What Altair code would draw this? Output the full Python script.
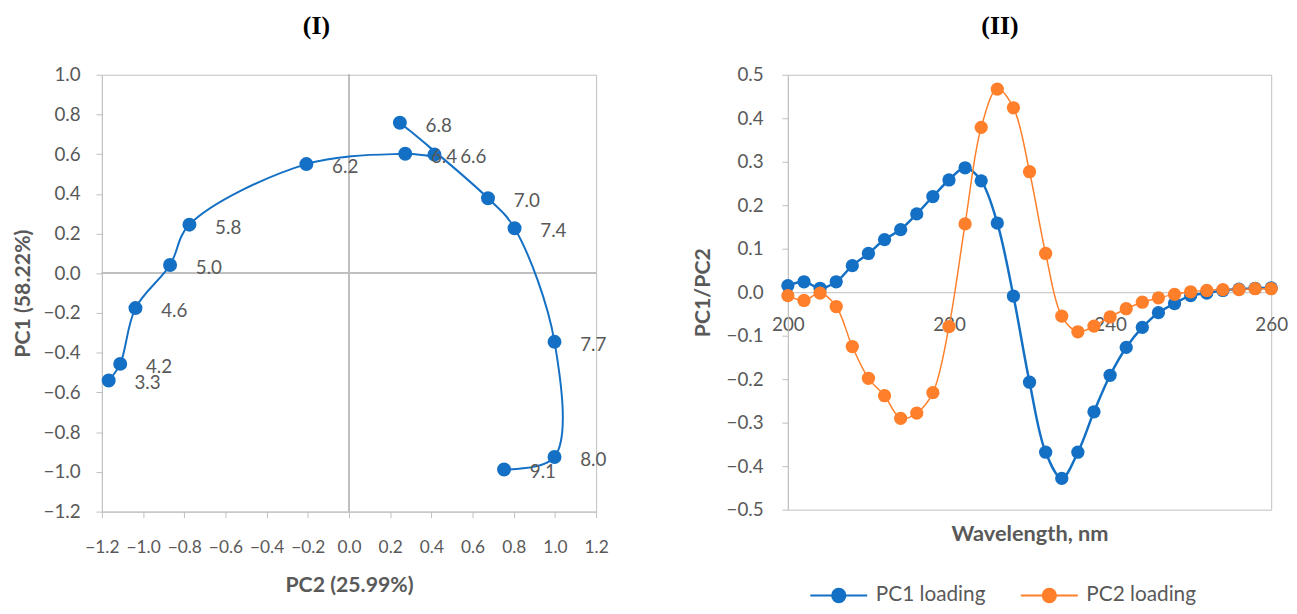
import altair as alt
import pandas as pd

# ---------------- data ----------------
ph_labels = ["3.3", "4.2", "4.6", "5.0", "5.8", "6.2", "6.4", "6.6", "6.8", "7.0", "7.4", "7.7", "8.0", "9.1"]
pc2_scores = [-1.167, -1.111, -1.037, -0.869, -0.775, -0.207, 0.273, 0.415, 0.247, 0.675, 0.804, 0.998, 0.998, 0.753]
pc1_scores = [-0.540, -0.456, -0.175, 0.042, 0.245, 0.550, 0.602, 0.598, 0.758, 0.378, 0.227, -0.345, -0.925, -0.988]

wavelengths = [200, 202, 204, 206, 208, 210, 212, 214, 216, 218, 220, 222, 224, 226, 228, 230,
               232, 234, 236, 238, 240, 242, 244, 246, 248, 250, 252, 254, 256, 258, 260]
pc1_loading = [0.015, 0.024, 0.009, 0.024, 0.061, 0.089, 0.121, 0.144, 0.180, 0.220, 0.258, 0.286,
               0.256, 0.159, -0.009, -0.207, -0.368, -0.428, -0.368, -0.275, -0.191, -0.127, -0.081,
               -0.047, -0.026, -0.008, -0.002, 0.004, 0.007, 0.009, 0.010]
pc2_loading = [-0.008, -0.019, -0.002, -0.033, -0.125, -0.198, -0.238, -0.290, -0.278, -0.231, -0.079,
               0.157, 0.379, 0.467, 0.424, 0.277, 0.089, -0.055, -0.091, -0.078, -0.057, -0.038, -0.023,
               -0.013, -0.005, 0.001, 0.004, 0.006, 0.006, 0.008, 0.008]
series_names = ["PC1 loading", "PC2 loading"]

score_x_ticks = [-1.2, -1.0, -0.8, -0.6, -0.4, -0.2, 0.0, 0.2, 0.4, 0.6, 0.8, 1.0, 1.2]
score_y_ticks = [-1.2, -1.0, -0.8, -0.6, -0.4, -0.2, 0.0, 0.2, 0.4, 0.6, 0.8, 1.0]
load_x_ticks = [200, 220, 240, 260]
load_y_ticks = [-0.5, -0.4, -0.3, -0.2, -0.1, 0.0, 0.1, 0.2, 0.3, 0.4, 0.5]

# ---------------- style ----------------
BLUE = "#1470C4"
ORANGE = "#FF7F2A"
FONT = "Lato"
GRAY = "#595959"
FRAME = "#BFBFBF"
FS = 19
TFS = 21.5

scores = pd.DataFrame({
    "idx": list(range(len(ph_labels))),
    "pH": ph_labels,
    "PC2": pc2_scores,
    "PC1": pc1_scores,
})

sx = alt.Scale(domain=[-1.2, 1.2], nice=False, zero=False)
sy = alt.Scale(domain=[-1.2, 1.0], nice=False, zero=False)

x_axis_l = alt.Axis(title="PC2 (25.99%)", values=score_x_ticks, format=".1f", labelOverlap=False,
                    labelFlush=False, labelFontSize=17.5,
                    tickSize=6, labelPadding=21, titlePadding=19, zindex=0)
y_axis_l = alt.Axis(title="PC1 (58.22%)", values=score_y_ticks, format=".1f", labelOverlap=False,
                    labelFlush=False, tickSize=6, labelPadding=16, titlePadding=9, zindex=0)

zero_v = alt.Chart(scores).mark_rule(color=FRAME, strokeWidth=1.5).encode(x=alt.datum(0))
zero_h = alt.Chart(scores).mark_rule(color=FRAME, strokeWidth=1.5).encode(y=alt.datum(0))

score_line = alt.Chart(scores).mark_line(interpolate="catmull-rom", color=BLUE, strokeWidth=2).encode(
    x=alt.X("PC2:Q", scale=sx, axis=x_axis_l),
    y=alt.Y("PC1:Q", scale=sy, axis=y_axis_l),
    order=alt.Order("idx:Q"),
)
score_pts = alt.Chart(scores).mark_circle(size=200, color=BLUE, opacity=1).encode(
    x="PC2:Q", y="PC1:Q"
)
score_text = alt.Chart(scores).mark_text(align="left", baseline="middle", dx=26, dy=3,
                                          fontSize=FS, font=FONT, color=GRAY).encode(
    x="PC2:Q", y="PC1:Q", text="pH:N"
)

left = alt.layer(zero_v, zero_h, score_line, score_pts, score_text).properties(
    width=500, height=442,
    title=alt.TitleParams("(I)", font="Liberation Serif", fontSize=26, fontWeight="bold",
                          color="black", offset=27, dx=-33),
)

# ---------------- loadings ----------------
load1 = pd.DataFrame({"wl": wavelengths, "val": pc1_loading, "series": series_names[0]})
load2 = pd.DataFrame({"wl": wavelengths, "val": pc2_loading, "series": series_names[1]})
load_all = pd.concat([load1, load2], ignore_index=True)

lx = alt.Scale(domain=[200, 260], nice=False, zero=False)
ly = alt.Scale(domain=[-0.5, 0.5], nice=False, zero=False)

x_axis_r = alt.Axis(title="Wavelength, nm", values=load_x_ticks, format="d", ticks=False,
                    labelFlush=False, labelOverlap=False, titleFontSize=22,
                    offset=-220, labelPadding=24, titleY=244, titleBaseline="middle", zindex=0)
y_axis_r = alt.Axis(title="PC1/PC2", values=load_y_ticks, format=".1f", labelOverlap=False,
                    labelFlush=False, tickSize=6, labelPadding=19, titlePadding=12, zindex=0)

sym_path = "M-3.2,0L3.2,0M0.75,0A0.75,0.75,0,1,1,-0.75,0A0.75,0.75,0,1,1,0.75,0Z"


def make_legend():
    return alt.Legend(
        title=None, orient="none", legendX=735, legendY=516,
        direction="horizontal", symbolType=sym_path, symbolSize=324,
        symbolStrokeWidth=2, labelOffset=27, columnPadding=31, padding=0,
        labelFont=FONT, labelFontSize=21, labelColor=GRAY, symbolOpacity=1,
    )


series_scale = alt.Scale(domain=series_names, range=[BLUE, ORANGE])

line1 = alt.Chart(load1).mark_line(interpolate="catmull-rom", color=BLUE, strokeWidth=2.5).encode(
    x=alt.X("wl:Q", scale=lx, axis=x_axis_r),
    y=alt.Y("val:Q", scale=ly, axis=y_axis_r),
)
line2 = alt.Chart(load2).mark_line(interpolate="catmull-rom", color=ORANGE, strokeWidth=1.5).encode(
    x="wl:Q", y="val:Q"
)
load_pts = alt.Chart(load_all).mark_point(filled=True, size=180, opacity=1, strokeWidth=0).encode(
    x="wl:Q", y="val:Q",
    fill=alt.Fill("series:N", scale=series_scale, legend=make_legend()),
    stroke=alt.Stroke("series:N", scale=series_scale, legend=make_legend()),
)

right = alt.layer(line1, line2, load_pts).properties(
    width=489, height=440,
    title=alt.TitleParams("(II)", font="Liberation Serif", fontSize=26, fontWeight="bold",
                          color="black", offset=27, dx=-30),
)

chart = alt.hconcat(left, right, spacing=83).properties(
    padding={"left": 3, "top": 1, "right": 0, "bottom": 0}
).configure_view(
    stroke=FRAME, strokeWidth=1
).configure_axis(
    labelFont=FONT, titleFont=FONT, labelColor=GRAY, titleColor=GRAY,
    labelFontSize=FS, titleFontSize=TFS, titleFontWeight="bold",
    domainColor=FRAME, tickColor=FRAME, grid=False,
)

chart.save("out.html", embed_options={"renderer": "svg", "actions": False})
